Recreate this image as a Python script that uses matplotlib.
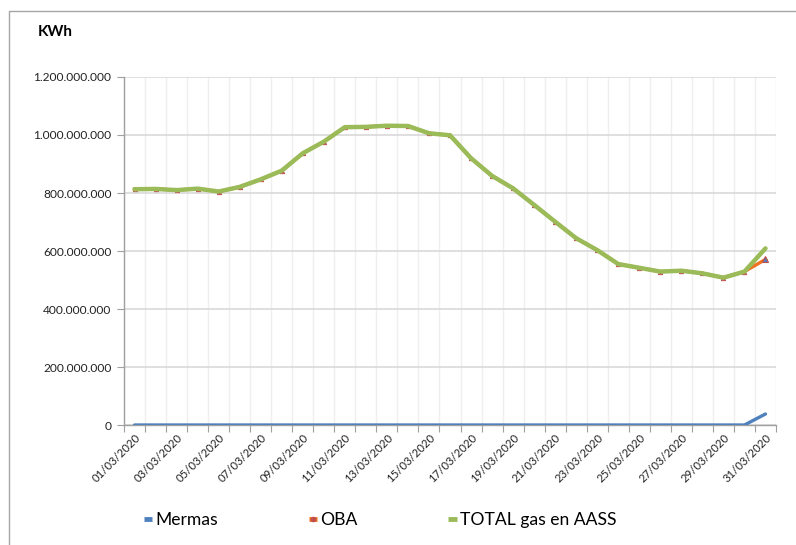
import matplotlib
matplotlib.use("Agg")
import matplotlib.pyplot as plt
from matplotlib.lines import Line2D
from matplotlib.patches import Rectangle
import numpy as np

plt.rcParams['font.family'] = ['Lato', 'DejaVu Sans']

dates = [f"{d:02d}/03/2020" for d in range(1, 32)]
total = [813, 814, 810, 815, 805, 821, 847, 877, 937, 977, 1027, 1028, 1032, 1031,
         1006, 999, 920, 859, 816, 759, 701, 644, 603, 555, 542, 529, 532, 523, 508,
         529, 609]
mermas = [0] * 30 + [38]
oba = [t - m for t, m in zip(total, mermas)]
total = [v * 1e6 for v in total]
mermas = [v * 1e6 for v in mermas]
oba = [v * 1e6 for v in oba]

W, H = 796, 545
fig = plt.figure(figsize=(W / 100, H / 100), dpi=100)
ax = fig.add_axes([124 / W, 1 - 425 / H, (776 - 124) / W, (425 - 77) / H])

x = np.arange(len(dates))
ax.plot(x, mermas, color='#4F81BD', lw=2.4, solid_capstyle='round', zorder=3)
ax.plot(x, oba, color='#F07020', lw=2.4, marker='^', ms=3.2, mfc='#C0504D',
        mec='#C0504D', mew=0.6, zorder=3)
ax.plot([x[-1]], [oba[-1]], ls='none', marker='^', ms=4, mfc='#4F81BD',
        mec='#C0504D', mew=0.8, zorder=3)
ax.plot(x, total, color='#9BBB59', lw=3.2, solid_capstyle='round', zorder=4)

ax.set_xlim(-0.5, len(dates) - 0.5)
ax.set_ylim(0, 1.2e9)
yt = np.arange(0, 1.2e9 + 1, 2e8)
ax.set_yticks(yt)
ax.set_yticklabels([f"{int(v):,}".replace(",", ".") for v in yt], fontsize=8.6, color='#222222')

ax.set_xticks(np.arange(-0.5, len(dates), 1.0))
ax.set_xticklabels([])
ax.set_xticks(x[::2], minor=True)
ax.set_xticklabels([dates[i] for i in x[::2]], minor=True, rotation=45, ha='right',
                   rotation_mode='anchor', fontsize=8.2, color='#222222')
ax.tick_params(axis='x', which='major', length=5, color='#A0A0A0', direction='out')
ax.tick_params(axis='x', which='minor', length=0, pad=5)
ax.tick_params(axis='y', length=5, color='#A0A0A0', pad=4)

ax.grid(axis='y', color='#D9D9D9', lw=1.2, zorder=0)
ax.grid(axis='x', which='major', color='#EFEFEF', lw=1.0, zorder=0)
ax.set_axisbelow(True)
for s in ['top', 'right']:
    ax.spines[s].set_visible(False)
for s in ['left', 'bottom']:
    ax.spines[s].set_color('#A0A0A0')
    ax.spines[s].set_linewidth(1.0)

fig.text(38 / W, 1 - 32 / H, 'KWh', fontsize=11, fontweight='bold', va='center', ha='left')

handles = [Line2D([], [], color='#4F81BD', lw=3.5, solid_capstyle='butt'),
           Line2D([], [], color='#F07020', lw=3.5, solid_capstyle='butt', marker='o', ms=3,
                  mfc='#C0504D', mec='#C0504D'),
           Line2D([], [], color='#9BBB59', lw=3.5, solid_capstyle='butt')]
fig.legend(handles, ['Mermas', 'OBA', 'TOTAL gas en AASS'], loc='center',
           bbox_to_anchor=(380 / W, 1 - 520 / H), ncol=3, frameon=False, fontsize=12.6,
           handlelength=0.5, handletextpad=0.15, columnspacing=5.2)

fig.patches.append(Rectangle((9 / W, -0.1), 1.2, 1 - 11 / H + 0.1, transform=fig.transFigure,
                             fill=False, edgecolor='#A6A6A6', lw=1.0))

fig.savefig('out.png', dpi=100)
